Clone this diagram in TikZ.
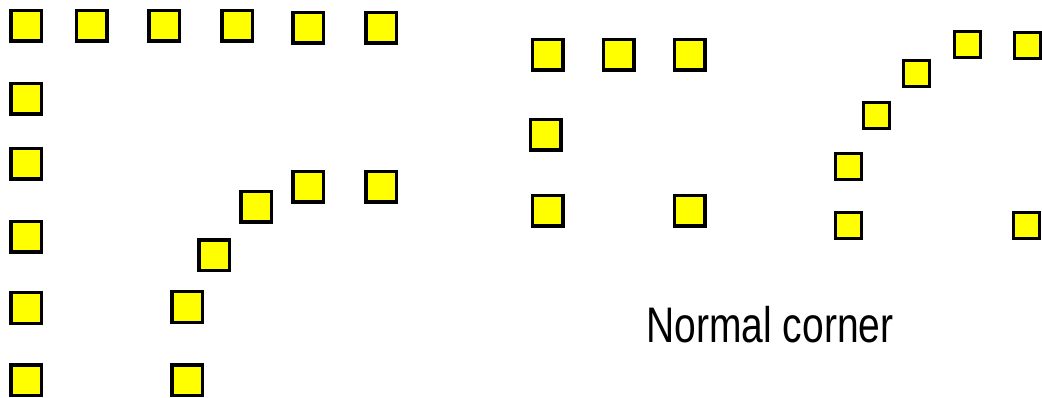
\documentclass[tikz,border=0pt]{standalone}
\usepackage{fontspec}
\setmainfont{Liberation Sans}
\usepackage{xcolor}
\usetikzlibrary{positioning}
\definecolor{cellyellow}{RGB}{255, 255, 0}

\begin{document}
\begin{tikzpicture}[x=1pt, y=-1pt,
    cell/.style={draw=black, fill=cellyellow, line width=3.5pt, minimum size=30.5pt, inner sep=0pt},
    smallcell/.style={draw=black, fill=cellyellow, line width=3pt, minimum size=26pt, inner sep=0pt}]
        \useasboundingbox (0, 0) rectangle (1042, 398);

        % Outer corner (left group)
        \node[cell] (a1) at (26, 26) {};
        \node[cell] (a2) at (91.5, 26) {};
        \node[cell] (a3) at (164, 26) {};
        \node[cell] (a4) at (237, 26) {};
        \node[cell] (a5) at (308, 28) {};
        \node[cell] (a6) at (381, 28) {};
        \node[cell] (b1) at (26, 99) {};
        \node[cell] (b2) at (26, 164) {};
        \node[cell] (b3) at (26, 237) {};
        \node[cell] (b4) at (26, 308) {};
        \node[cell] (b5) at (26, 380) {};

        % Inner rounded corner (left group)
        \node[cell] (c1) at (381, 187) {};
        \node[cell] (c2) at (308, 187) {};
        \node[cell] (c3) at (256, 207) {};
        \node[cell] (c4) at (214, 255.5) {};
        \node[cell] (c5) at (187, 307) {};
        \node[cell] (c6) at (187, 380) {};

        % Normal corner
        \node[cell] (n1) at (547.5, 55) {};
        \node[cell] (n2) at (618.8, 55) {};
        \node[cell] (n3) at (689.5, 55) {};
        \node[cell] (n4) at (545.5, 135) {};
        \node[cell] (n5) at (547.5, 211) {};
        \node[cell] (n6) at (689.5, 211) {};
        \node[font=\fontsize{50}{60}\selectfont, anchor=base] (label) at (770, 342) {\scalebox{0.78}[1]{Normal corner}};

        % Rounded corner (right group)
        \node[smallcell] (r1) at (1027.8, 46) {};
        \node[smallcell] (r2) at (967.5, 44.5) {};
        \node[smallcell] (r3) at (916.5, 74) {};
        \node[smallcell] (r4) at (876.5, 116) {};
        \node[smallcell] (r5) at (848, 166.5) {};
        \node[smallcell] (r6) at (848, 226) {};
        \node[smallcell] (r7) at (1026.5, 226) {};
    \end{tikzpicture}
\end{document}
